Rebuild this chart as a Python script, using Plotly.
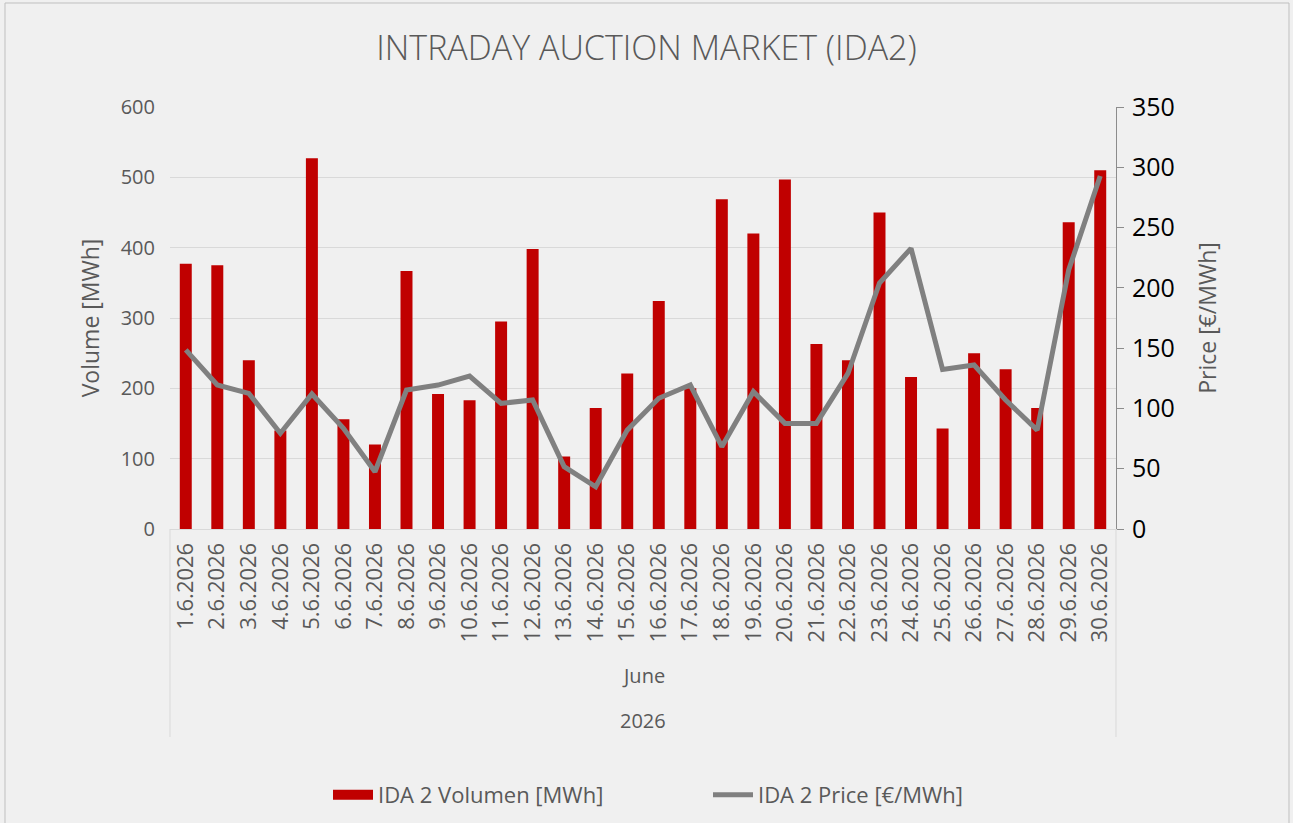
import plotly.graph_objects as go

days = [f"{d}.6.2026" for d in range(1, 31)]
volume = [377, 375, 240, 140, 527, 156, 120, 367, 192, 183,
          295, 398, 103, 172, 221, 324, 200, 469, 420, 497,
          263, 240, 450, 216, 143, 250, 227, 172, 436, 510]
price = [148.5, 119.4, 112.5, 79.4, 112.0, 83.5, 47.5, 115.3, 119.4, 126.9,
         104.2, 107.0, 51.7, 35.0, 82.0, 108.4, 119.4, 68.3, 113.9, 87.6,
         87.6, 129.0, 204.0, 232.8, 132.4, 136.0, 107.0, 82.0, 214.8, 292.8]
month_label = "June"
year_label = "2026"

text_color = "#595959"
font = "Open Sans"
bar_color = "#c00000"
line_color = "#808080"

# plot area in pixels (from the original)
top, bottom, left, right = 107, 529, 170, 1116
ph = bottom - top
pw = right - left


def py(pix):
    return (bottom - pix) / ph


def px(pix):
    return (pix - left) / pw


fig = go.Figure()

fig.add_trace(go.Bar(x=days,
                     y=volume,
                     name="IDA 2 Volumen [MWh]",
                     marker={"color": bar_color, "line": {"width": 0}},
                     width=0.38,
                     showlegend=False))

# legend-only entry so the legend key is a wide red block like the original
fig.add_trace(go.Scatter(x=[None],
                         y=[None],
                         mode="lines",
                         name="IDA 2 Volumen [MWh]",
                         line={"color": bar_color, "width": 14}))

fig.add_trace(go.Scatter(x=days,
                         y=price,
                         mode="lines",
                         name="IDA 2 Price [€/MWh]",
                         yaxis="y2",
                         line={"color": line_color, "width": 5}))

fig.update_layout(width=1293, height=823,
                  margin={"l": left, "r": 1293 - right, "t": top, "b": 823 - bottom, "autoexpand": False},
                  paper_bgcolor="#f0f0f0",
                  plot_bgcolor="rgba(0,0,0,0)",
                  font={"family": font, "color": text_color, "size": 16},
                  title={"text": "INTRADAY AUCTION MARKET (IDA2)",
                         "x": 0.5, "xanchor": "center",
                         "y": 1 - 48 / 823, "yanchor": "middle",
                         "font": {"size": 34, "color": text_color, "weight": 300}},
                  xaxis={"type": "category",
                         "tickangle": -90,
                         "automargin": False,
                         "showgrid": False,
                         "showline": True,
                         "linecolor": "#d9d9d9",
                         "linewidth": 1,
                         "ticks": "",
                         "ticklabelstandoff": 4,
                         "tickfont": {"size": 22}},
                  yaxis={"range": [0, 600],
                         "dtick": 100,
                         "automargin": False,
                         "gridcolor": "#d9d9d9",
                         "gridwidth": 1,
                         "zeroline": False,
                         "showline": False,
                         "ticklabelstandoff": 14,
                         "tickfont": {"size": 20},
                         "title": {"text": "Volume [MWh]", "font": {"size": 23}, "standoff": 14}},
                  yaxis2={"range": [0, 350],
                          "dtick": 50,
                          "overlaying": "y",
                          "side": "right",
                          "automargin": False,
                          "showgrid": False,
                          "zeroline": False,
                          "showline": True,
                          "linecolor": "#8c8c8c",
                          "ticks": "outside",
                          "ticklen": 7,
                          "tickcolor": "#8c8c8c",
                          "ticklabelstandoff": 3,
                          "tickfont": {"size": 25, "color": "#000000"},
                          "title": {"text": "Price [€/MWh]", "font": {"size": 23}, "standoff": 26}},
                  legend={"orientation": "h",
                          "x": px(328), "xanchor": "left",
                          "y": py(795), "yanchor": "middle",
                          "font": {"size": 22},
                          "entrywidth": 325,
                          "itemwidth": 40,
                          "bgcolor": "rgba(0,0,0,0)"})

# multi-level category axis labels and dividers
fig.add_annotation(text=month_label, xref="paper", yref="paper", x=0.5, y=py(675), yanchor="middle",
                   showarrow=False, font={"size": 20, "color": text_color})
fig.add_annotation(text=year_label, xref="paper", yref="paper", x=0.5, y=py(720), yanchor="middle",
                   showarrow=False, font={"size": 20, "color": text_color})
for xp in [0, 1]:
    fig.add_shape(type="line", xref="paper", yref="paper", x0=xp, x1=xp, y0=0, y1=py(737),
                  line={"color": "#d9d9d9", "width": 1})

# outer chart frame
fig.add_shape(type="rect", xref="paper", yref="paper",
              x0=px(5), x1=px(1289), y0=py(830), y1=py(3),
              line={"color": "#bfbfbf", "width": 1})

fig.write_html("out.html", config={"displayModeBar": False},
               post_script="document.body.style.margin = '0';")
